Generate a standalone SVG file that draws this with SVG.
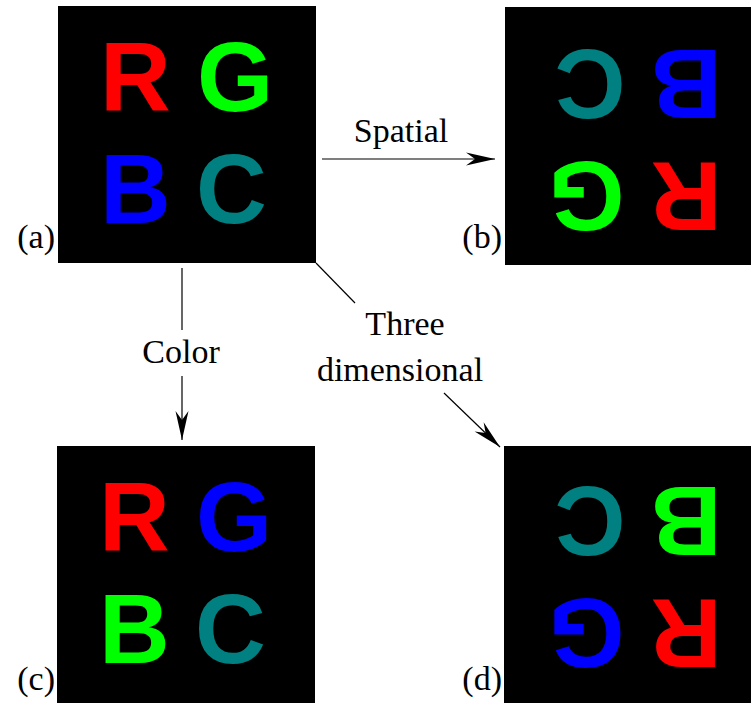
<svg xmlns="http://www.w3.org/2000/svg" width="751" height="706" viewBox="0 0 751 706">
<style>
.panel{fill:#000}
.let{font-family:"Liberation Sans",Arial,sans-serif;font-weight:bold;font-size:98px}
.lbl{font-family:"Liberation Serif","Times New Roman",serif;font-size:34px;fill:#000}
.conn{stroke:#000;stroke-width:1.2;fill:none}
.r{fill:#ff0000}.g{fill:#00ff00}.b{fill:#0000ff}.c{fill:#008080}
</style>
<defs>
<marker id="arr" viewBox="-30 -8 32 16" markerWidth="32" markerHeight="16" refX="0" refY="0" orient="auto" markerUnits="userSpaceOnUse">
<path d="M0,0 L-29,-6.5 L-20,0 L-29,6.5 Z" fill="#000"/>
</marker>
</defs>
<rect width="751" height="706" fill="#fff"/>
<g id="panel-a">
<rect class="panel" x="58" y="6" width="258" height="257"/>
<text class="let r" x="100" y="111">R</text>
<text class="let g" x="197" y="111">G</text>
<text class="let b" x="100" y="223">B</text>
<text class="let c" x="196" y="223">C</text>
<text class="lbl" x="55" y="248" text-anchor="end">(a)</text>
</g>
<g id="panel-b">
<rect class="panel" x="505" y="7" width="246" height="258"/>
<g transform="rotate(180 410.75 136.25)">
<text class="let r" x="100" y="111">R</text>
<text class="let g" x="197" y="111">G</text>
<text class="let b" x="100" y="223">B</text>
<text class="let c" x="196" y="223">C</text>
</g>
<text class="lbl" x="502" y="248" text-anchor="end">(b)</text>
</g>
<g id="panel-c">
<rect class="panel" x="57" y="446" width="258" height="257"/>
<text class="let r" x="99" y="551">R</text>
<text class="let b" x="196" y="551">G</text>
<text class="let g" x="99" y="663">B</text>
<text class="let c" x="195" y="663">C</text>
<text class="lbl" x="55" y="690" text-anchor="end">(c)</text>
</g>
<g id="panel-d">
<rect class="panel" x="504" y="446" width="247" height="257"/>
<g transform="rotate(180 410.25 574.75)">
<text class="let r" x="99" y="551">R</text>
<text class="let b" x="196" y="551">G</text>
<text class="let g" x="99" y="663">B</text>
<text class="let c" x="195" y="663">C</text>
</g>
<text class="lbl" x="502" y="690" text-anchor="end">(d)</text>
</g>
<g id="connectors">
<line class="conn" x1="322" y1="159" x2="495" y2="159" marker-end="url(#arr)"/>
<line class="conn" x1="182" y1="268" x2="182" y2="330"/>
<line class="conn" x1="182" y1="376" x2="182" y2="440" marker-end="url(#arr)"/>
<line class="conn" x1="316" y1="263" x2="355" y2="303"/>
<line class="conn" x1="444" y1="393" x2="500" y2="447" marker-end="url(#arr)"/>
<text class="lbl" x="401" y="142" text-anchor="middle">Spatial</text>
<text class="lbl" x="181" y="363" text-anchor="middle">Color</text>
<text class="lbl" x="405" y="335" text-anchor="middle">Three</text>
<text class="lbl" x="400" y="381" text-anchor="middle">dimensional</text>
</g>
</svg>
